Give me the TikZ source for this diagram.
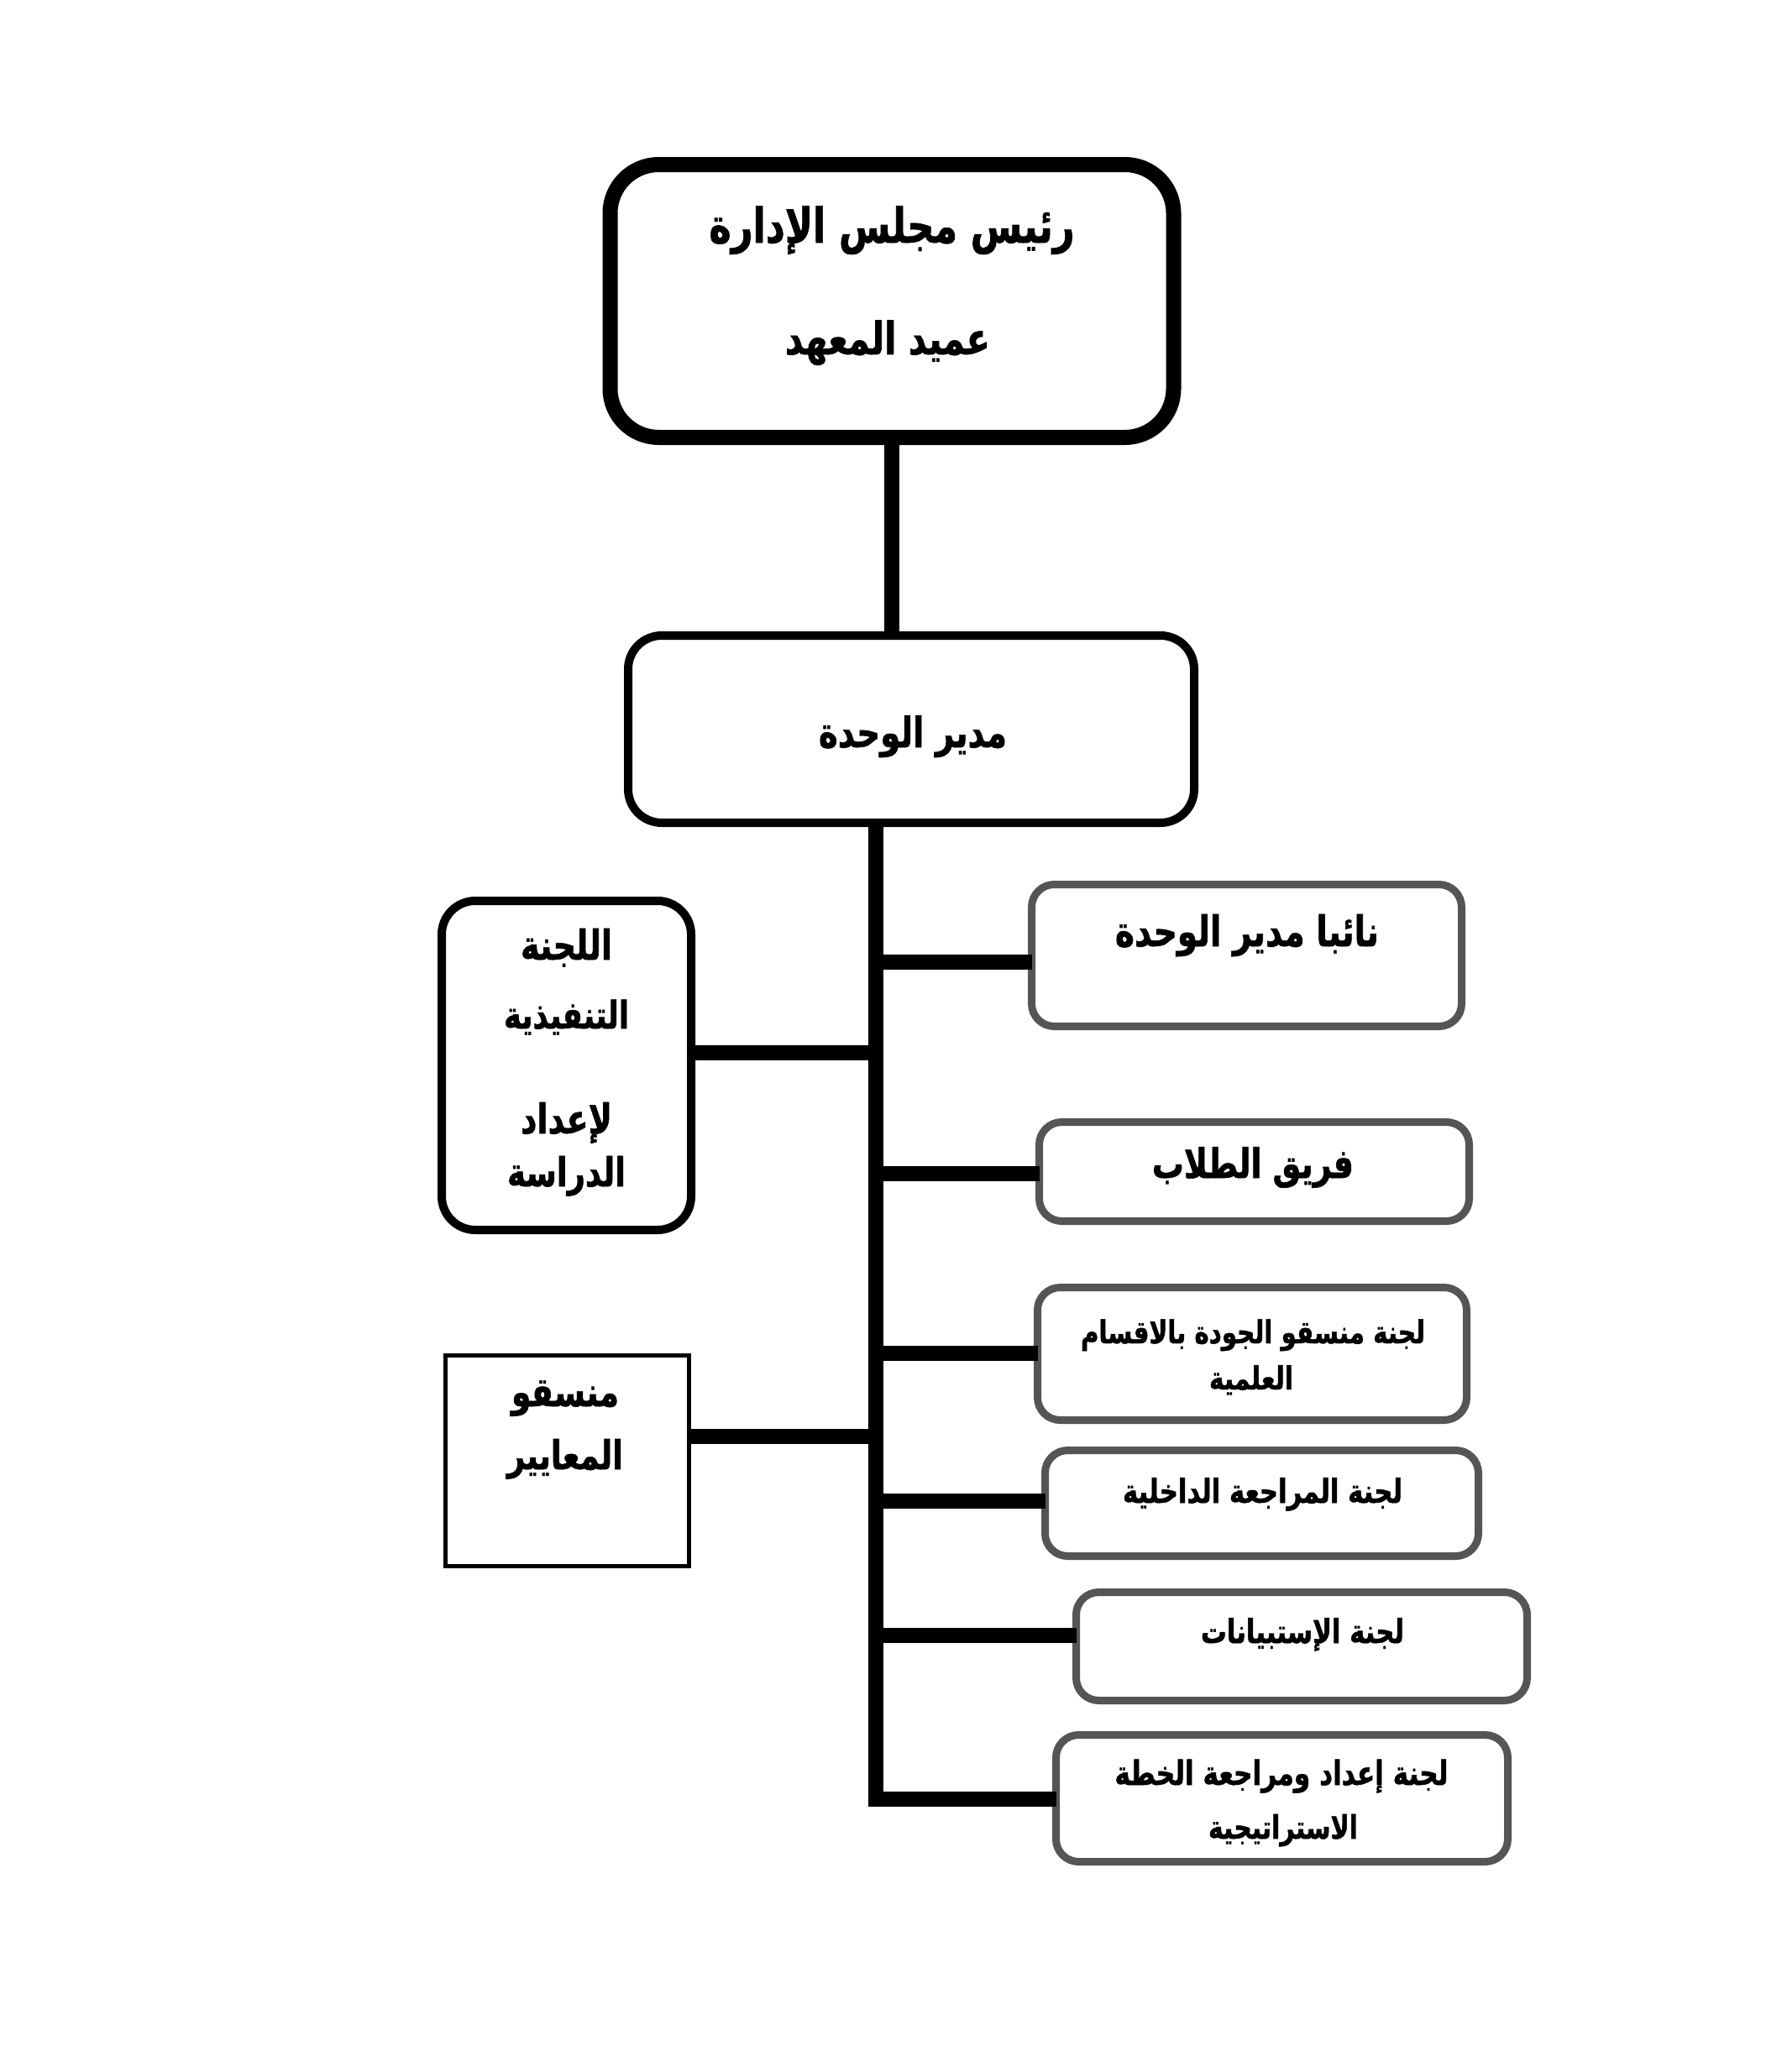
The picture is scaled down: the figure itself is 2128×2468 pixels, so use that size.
\documentclass[tikz,border=0pt]{standalone}
\usepackage{fontspec}
\usepackage{graphicx}
\TeXXeTstate=1
\newfontfamily\arabicfont[Script=Arabic, FakeStretch=0.78, BoldFeatures={FakeStretch=0.78, FakeBold=1.2}]{DejaVu Sans}
\definecolor{boxgrey}{HTML}{555555}
\newcommand{\artxt}[2]{\resizebox{#1pt}{!}{\arabicfont\bfseries #2}}
\begin{document}
\begin{tikzpicture}[x=1pt,y=-1pt,
  basebox/.style={fill=white, inner sep=0pt, outer sep=0pt},
  topbox/.style={basebox, draw=black, line width=18pt, rounded corners=58pt},
  midbox/.style={basebox, draw=black, line width=10pt, rounded corners=40pt},
  greybox/.style={basebox, draw=boxgrey, line width=9pt, rounded corners=27pt},
  leftbox/.style={basebox, draw=black, line width=10pt, rounded corners=40pt},
  plainbox/.style={basebox, draw=black, line width=5pt},
  conn/.style={draw=black, line width=18pt},
  lbl/.style={anchor=base, inner sep=0pt, outer sep=0pt}
]
\useasboundingbox[fill=white] (0,0) rectangle (2128,2468);

% boxes
\node[topbox, minimum width=671pt, minimum height=325pt] (dean) at (1062,358.5) {};
\node[midbox, minimum width=674pt, minimum height=223pt] (mgr) at (1085,868.5) {};
\node[greybox, minimum width=512pt, minimum height=169pt] (b1) at (1484.5,1138) {};
\node[greybox, minimum width=512pt, minimum height=118pt] (b2) at (1493.5,1395.5) {};
\node[greybox, minimum width=511pt, minimum height=158pt] (b3) at (1491,1612.5) {};
\node[greybox, minimum width=516pt, minimum height=126pt] (b4) at (1502.5,1790.5) {};
\node[greybox, minimum width=537pt, minimum height=129pt] (b5) at (1550,1961) {};
\node[greybox, minimum width=538pt, minimum height=151pt] (b6) at (1526.5,2142) {};
\node[leftbox, minimum width=297pt, minimum height=392pt] (la) at (674.5,1269) {};
\node[plainbox, minimum width=290pt, minimum height=251pt] (lb) at (675.5,1740) {};

% trunk and junctions
\coordinate (tx) at (1042.5,2152);
\coordinate (j1) at (1042.5,1145.5);
\coordinate (j2) at (1042.5,1398);
\coordinate (j3) at (1042.5,1612);
\coordinate (j4) at (1042.5,1788);
\coordinate (j5) at (1042.5,1948);
\coordinate (j6) at (1042.5,2143);
\coordinate (ja) at (1042.5,1253.5);
\coordinate (jb) at (1042.5,1711);

% connectors
\draw[conn] (dean.south) -- (dean.south |- mgr.north);
\draw[conn] (mgr.south -| tx) -- (tx);
\draw[conn] (j1) -- (j1 -| b1.west);
\draw[conn] (j2) -- (j2 -| b2.west);
\draw[conn] (j3) -- (j3 -| b3.west);
\draw[conn] (j4) -- (j4 -| b4.west);
\draw[conn] (j5) -- (j5 -| b5.west);
\draw[conn] (j6) -- (j6 -| b6.west);
\draw[conn] (ja) -- (ja -| la.east);
\draw[conn] (jb) -- (jb -| lb.east);

% texts
\node[lbl] (deanA) at (1062,289) {\artxt{435}{\beginR رئيس مجلس الإدارة\endR}};
\node[lbl] (deanB) at (1057,422) {\artxt{244}{\beginR عميد المعهد\endR}};
\node[lbl] (mgrT) at (1087,890) {\artxt{224}{\beginR مدير الوحدة\endR}};
\node[lbl] (b1T) at (1485,1127) {\artxt{314}{\beginR نائبا مدير الوحدة\endR}};
\node[lbl] (b2T) at (1492,1403) {\artxt{240}{\beginR فريق الطلاب\endR}};
\node[lbl] (b3T1) at (1492,1600) {\artxt{410}{\beginR لجنة منسقو الجودة بالاقسام\endR}};
\node[lbl] (b3T2) at (1490,1655) {\artxt{100}{\beginR العلمية\endR}};
\node[lbl] (b4T) at (1503.5,1790) {\artxt{333}{\beginR لجنة المراجعة الداخلية\endR}};
\node[lbl] (b5T) at (1551,1957) {\artxt{242}{\beginR لجنة الإستبيانات\endR}};
\node[lbl] (b6T1) at (1526,2126) {\artxt{397}{\beginR لجنة إعداد ومراجعة الخطة\endR}};
\node[lbl] (b6T2) at (1528,2190) {\artxt{178}{\beginR الاستراتيجية\endR}};
\node[lbl] (laT1) at (674.5,1143) {\artxt{109}{\beginR اللجنة\endR}};
\node[lbl] (laT2) at (674.5,1225) {\artxt{149}{\beginR التنفيذية\endR}};
\node[lbl] (laT3) at (674.5,1350) {\artxt{109}{\beginR لإعداد\endR}};
\node[lbl] (laT4) at (674.5,1413) {\artxt{141}{\beginR الدراسة\endR}};
\node[lbl] (lbT1) at (673,1675) {\artxt{128}{\beginR منسقو\endR}};
\node[lbl] (lbT2) at (673,1750) {\artxt{138}{\beginR المعايير\endR}};
\end{tikzpicture}
\end{document}
